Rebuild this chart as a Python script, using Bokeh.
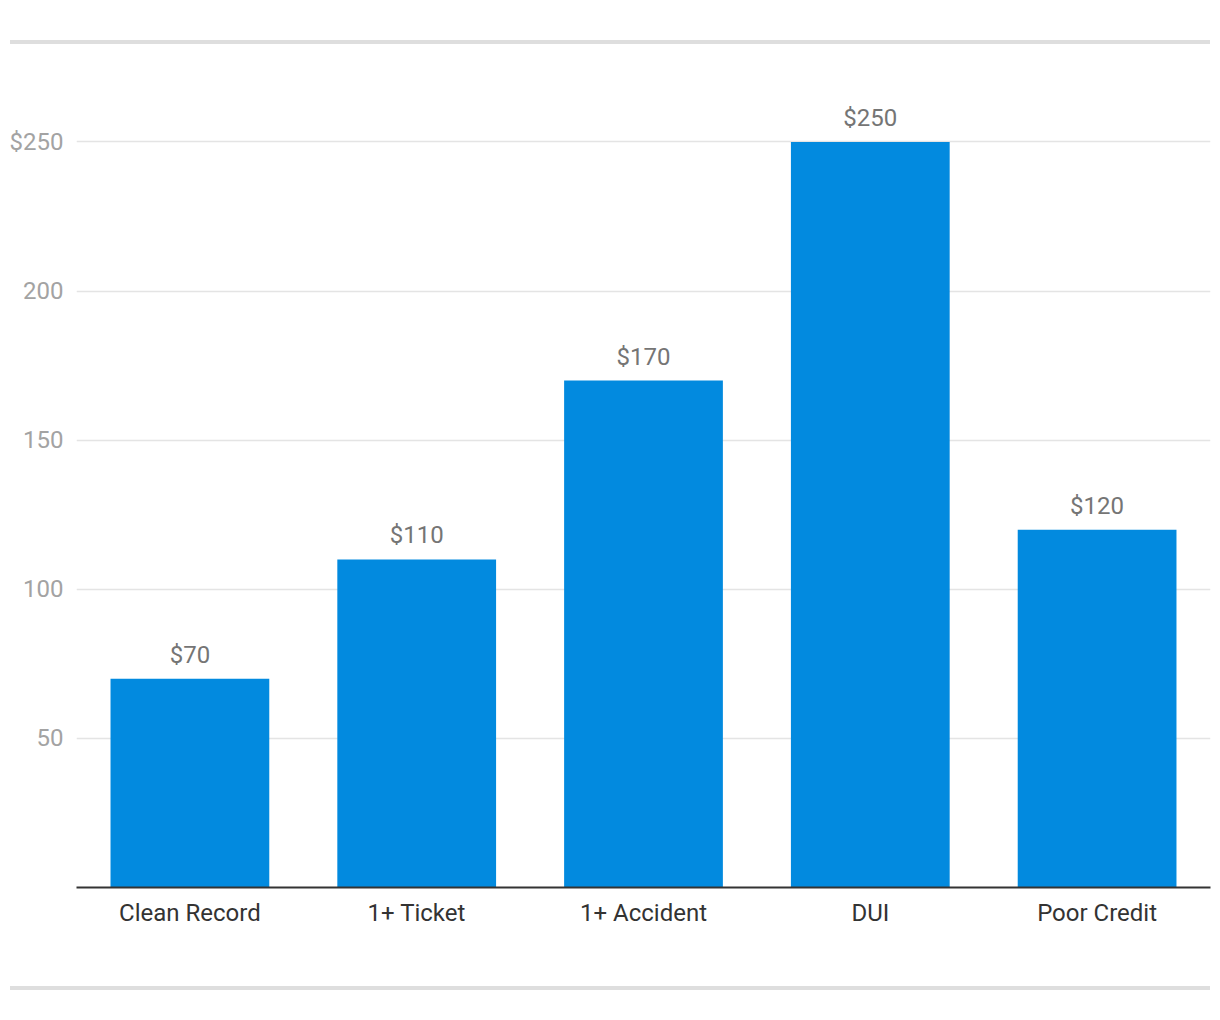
from bokeh.plotting import figure
from bokeh.models import ColumnDataSource, FixedTicker, Div
from bokeh.layouts import column
from bokeh.core.properties import value
from bokeh.embed import file_html
from bokeh.resources import INLINE

categories = ["Clean Record", "1+ Ticket", "1+ Accident", "DUI", "Poor Credit"]
premiums = [70, 110, 170, 250, 120]
bar_labels = ["$70", "$110", "$170", "$250", "$120"]
y_ticks = [50, 100, 150, 200, 250]
y_tick_labels = ["50", "100", "150", "200", "$250"]

FONT = "Roboto"

src = ColumnDataSource(dict(cat=categories, val=premiums, lab=bar_labels))

p = figure(x_range=categories, y_range=(0, 280), width=1220, height=942,
           output_backend="svg", toolbar_location=None,
           min_border_left=76, min_border_right=10, min_border_top=8,
           min_border_bottom=99)
p.outline_line_color = None
p.background_fill_color = "white"
p.border_fill_color = "white"

p.vbar(x="cat", top="val", width=0.7, source=src, fill_color="#028ADF",
       line_color=None)
p.text(x="cat", y="val", text="lab", source=src, text_align="center",
       text_baseline="alphabetic", y_offset=-24, text_font=value(FONT),
       text_font_size="24px", text_color="#757575")

p.xgrid.grid_line_color = None
p.ygrid.grid_line_color = "#e4e4e4"
p.ygrid.grid_line_width = 1.5
p.yaxis.ticker = FixedTicker(ticks=y_ticks)
p.yaxis.major_label_overrides = {t: l for t, l in zip(y_ticks, y_tick_labels)}
p.yaxis.axis_line_color = None
p.yaxis.major_tick_line_color = None
p.yaxis.minor_tick_line_color = None
p.yaxis.major_label_standoff = 7
p.yaxis.major_label_text_font = FONT
p.yaxis.major_label_text_font_size = "24px"
p.yaxis.major_label_text_color = "#a3a3a3"

p.xaxis.axis_line_color = "#333333"
p.xaxis.axis_line_width = 2
p.xaxis.major_tick_line_color = None
p.xaxis.minor_tick_line_color = None
p.xaxis.major_label_standoff = 5
p.xaxis.major_label_text_font = FONT
p.xaxis.major_label_text_font_size = "24px"
p.xaxis.major_label_text_color = "#333333"

top_rule = Div(width=1200, height=4, margin=(40, 10, 0, 10),
               styles={"background-color": "#dedede"})
bottom_rule = Div(width=1200, height=4, margin=(0, 10, 0, 10),
                  styles={"background-color": "#dedede"})

layout = column(top_rule, p, bottom_rule, spacing=0)
open("out.html", "w").write(file_html(layout, INLINE))
